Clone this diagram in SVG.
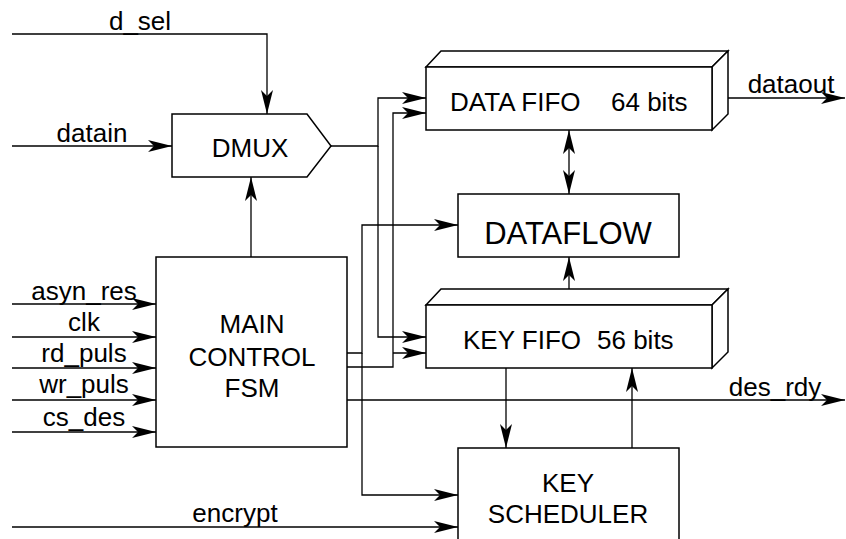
<svg xmlns="http://www.w3.org/2000/svg" width="846" height="539" viewBox="0 0 846 539">
<style>
text{font-family:"Liberation Sans",Arial,sans-serif;font-size:26px;fill:#000}
.c{text-anchor:middle}
.big{font-size:31px}
.box{fill:#fff;stroke:#000;stroke-width:1.5;stroke-linejoin:miter}
.w{fill:none;stroke:#000;stroke-width:1.3}
.a{marker-end:url(#ah)}
</style>
<defs>
<marker id="ah" viewBox="0 0 24 12" refX="24" refY="6" markerWidth="24" markerHeight="12" markerUnits="userSpaceOnUse" orient="auto-start-reverse">
<path d="M0,0 L24,6 L0,12 L6,6 Z" fill="#000"/>
</marker>
</defs>
<rect width="846" height="539" fill="#fff"/>
<g id="connectors">
<path class="w a" d="M12,34 H267 V114"/>
<path class="w a" d="M12,146 H172"/>
<path class="w a" d="M331,146 H378 V98 H426"/>
<path class="w a" d="M378,146 V337 H426"/>
<path class="w a" d="M251,257 V177"/>
<path class="w a" d="M347,353 H362 V225 H458"/>
<path class="w a" d="M362,353 V495 H458"/>
<path class="w a" d="M347,367 H393 V113 H426"/>
<path class="w a" d="M393,353 H426"/>
<path class="w a" d="M347,400 H845"/>
<path class="w a" d="M728,98 H845"/>
<path class="w a" d="M12,304 H156"/>
<path class="w a" d="M12,337 H156"/>
<path class="w a" d="M12,368 H156"/>
<path class="w a" d="M12,400 H156"/>
<path class="w a" d="M12,432 H156"/>
<path class="w a" d="M12,527 H458"/>
<path class="w a" d="M569,130 V194" marker-start="url(#ah)"/>
<path class="w a" d="M569,289 V257"/>
<path class="w a" d="M506,368 V448"/>
<path class="w a" d="M632,448 V368"/>
</g>
<g id="labels">
<text class="c" x="140" y="30">d_sel</text>
<text class="c" x="92" y="142">datain</text>
<text class="c" x="84" y="300">asyn_res</text>
<text class="c" x="84" y="331">clk</text>
<text class="c" x="84" y="362">rd_puls</text>
<text class="c" x="84" y="393">wr_puls</text>
<text class="c" x="84" y="426">cs_des</text>
<text class="c" x="235" y="522">encrypt</text>
<text class="c" x="775" y="396">des_rdy</text>
<text class="c" x="791" y="93">dataout</text>
</g>
<g id="dmux">
<path class="box" d="M172,114 H307 L331,146 L307,177 H172 Z"/>
<text class="c" x="250" y="157">DMUX</text>
</g>
<g id="data_fifo">
<path class="box" d="M426,67 L441,51 H728 L712,67 Z"/>
<path class="box" d="M712,67 L728,51 V114 L712,130 Z"/>
<rect class="box" x="426" y="67" width="286" height="63"/>
<text x="450" y="111">DATA FIFO</text>
<text x="611" y="111">64 bits</text>
</g>
<g id="dataflow">
<rect class="box" x="458" y="194" width="221" height="63"/>
<text class="c big" x="568" y="244">DATAFLOW</text>
</g>
<g id="key_fifo">
<path class="box" d="M426,305 L441,289 H728 L712,305 Z"/>
<path class="box" d="M712,305 L728,289 V352 L712,368 Z"/>
<rect class="box" x="426" y="305" width="286" height="63"/>
<text x="463" y="349">KEY FIFO</text>
<text x="597" y="349">56 bits</text>
</g>
<g id="fsm">
<rect class="box" x="156" y="257" width="191" height="190"/>
<text class="c" x="252" y="333">MAIN</text>
<text class="c" x="252" y="366">CONTROL</text>
<text class="c" x="252" y="397">FSM</text>
</g>
<g id="key_scheduler">
<rect class="box" x="458" y="448" width="221" height="100"/>
<text class="c" x="568" y="492">KEY</text>
<text class="c" x="568" y="523">SCHEDULER</text>
</g>
</svg>
